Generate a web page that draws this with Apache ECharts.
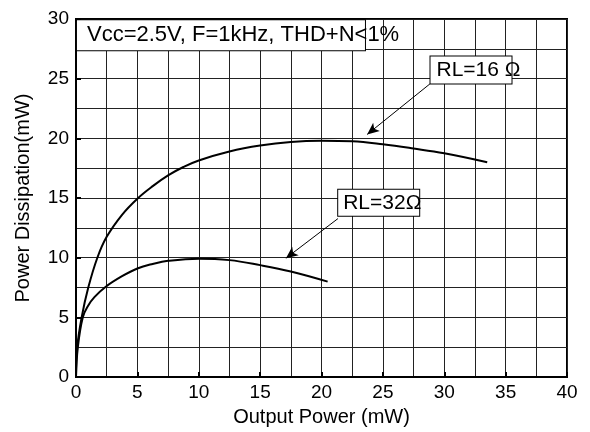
<!DOCTYPE html>
<html>
<head>
<meta charset="utf-8">
<script src="https://cdn.jsdelivr.net/npm/echarts@6/dist/echarts.min.js"></script>
<style>
  html, body { margin: 0; padding: 0; background: #fff; }
  #chart1 { width: 590px; height: 432px; }
</style>
</head>
<body>
<div id="chart1"></div>
<script>
// values: [output power mW, power dissipation mW]
var rl16 = [
  [0, 0], [0.1, 2.5], [0.46, 5], [1.0, 7.5], [1.74, 10], [2.5, 11.75],
  [3.75, 13.6], [5, 14.95], [6.25, 16.0], [7.5, 16.9], [8.75, 17.6],
  [10, 18.15], [12.5, 18.9], [15, 19.4], [17.5, 19.7], [20, 19.8],
  [22.5, 19.75], [25, 19.5], [27.5, 19.15], [30, 18.75], [33.5, 18.0]
];
var rl32 = [
  [0, 0], [0.15, 2.5], [0.55, 5], [1.0, 6.0], [1.5, 6.7], [2.4, 7.55],
  [3.75, 8.45], [5, 9.1], [6.25, 9.48], [7.5, 9.74], [10, 9.92],
  [12.5, 9.8], [15, 9.38], [17.5, 8.85], [20.5, 8.0]
];
var condText = "Vcc=2.5V, F=1kHz, THD+N<1%";
var label16 = "RL=16 Ω";
var label32 = "RL=32Ω";
// where the notes sit, in data units
var condPos = [11.81, 28.63];
var box16Pos = [32.18, 25.73];
var box32Pos = [24.66, 14.6];
var arrow16 = [[28.83, 24.56], [23.72, 20.33]];
var arrow32 = [[21.34, 13.28], [17.1, 9.96]];

var font = "Liberation Sans, Arial, sans-serif";
var chart1 = echarts.init(document.getElementById("chart1"));

function noteBox(pos, text, size, pad, fontSize) {
  return {
    coord: pos,
    symbol: "circle",
    symbolSize: 0,
    label: {
      show: true,
      formatter: text,
      position: "inside",
      align: "left",
      verticalAlign: "middle",
      width: size[0] - pad - 1,
      height: size[1],
      lineHeight: size[1],
      padding: [0, 1, 0, pad],
      backgroundColor: "#fff",
      borderColor: "#000",
      borderWidth: 1,
      offset: [-size[0] / 2, 0],
      color: "#000",
      fontSize: fontSize,
      fontFamily: font
    }
  };
}

function axisCommon() {
  return {
    type: "value",
    min: 0,
    interval: 5,
    axisLine: { show: true, lineStyle: { color: "#000", width: 2 } },
    axisTick: { show: true, inside: true, length: 5, lineStyle: { color: "#000", width: 2 } },
    minorTick: { show: false, splitNumber: 2 },
    splitLine: { show: true, lineStyle: { color: "#222", width: 1 } },
    minorSplitLine: { show: true, lineStyle: { color: "#222", width: 1 } },
    axisLabel: { color: "#000", fontSize: 19, fontFamily: font },
    nameTextStyle: { color: "#000", fontSize: 20, fontFamily: font },
    nameLocation: "middle"
  };
}

var xAxis = axisCommon();
xAxis.max = 40;
xAxis.name = "Output Power (mW)";
xAxis.nameGap = 26;
xAxis.axisLabel.margin = 6;

var yAxis = axisCommon();
yAxis.max = 30;
yAxis.name = "Power Dissipation(mW)";
yAxis.nameGap = 43;
yAxis.axisLabel.margin = 7;

var option = {
  animation: false,
  backgroundColor: "#fff",
  grid: {
    left: 76,
    right: 23,
    top: 19,
    bottom: 52,
    show: true,
    borderColor: "#000",
    borderWidth: 2
  },
  xAxis: xAxis,
  yAxis: yAxis,
  series: [
    {
      name: "RL=16",
      type: "line",
      data: rl16,
      smooth: 0.4,
      showSymbol: false,
      lineStyle: { color: "#000", width: 2 },
      z: 3,
      markLine: {
        silent: true,
        symbol: ["none", "arrow"],
        symbolSize: [8, 12],
        label: { show: false },
        lineStyle: { color: "#000", width: 1, type: "solid" },
        data: [
          [{ coord: arrow16[0] }, { coord: arrow16[1] }],
          [{ coord: arrow32[0] }, { coord: arrow32[1] }]
        ]
      },
      markPoint: {
        silent: true,
        z: 5,
        data: [
          noteBox(condPos, condText, [288, 30], 10, 22),
          noteBox(box16Pos, label16, [81, 27], 6, 21),
          noteBox(box32Pos, label32, [81, 26], 5, 21)
        ]
      }
    },
    {
      name: "RL=32",
      type: "line",
      data: rl32,
      smooth: 0.4,
      showSymbol: false,
      lineStyle: { color: "#000", width: 2 },
      z: 3
    }
  ]
};

chart1.setOption(option);
window.addEventListener("resize", function () {
  chart1.resize();
});
</script>
</body>
</html>
